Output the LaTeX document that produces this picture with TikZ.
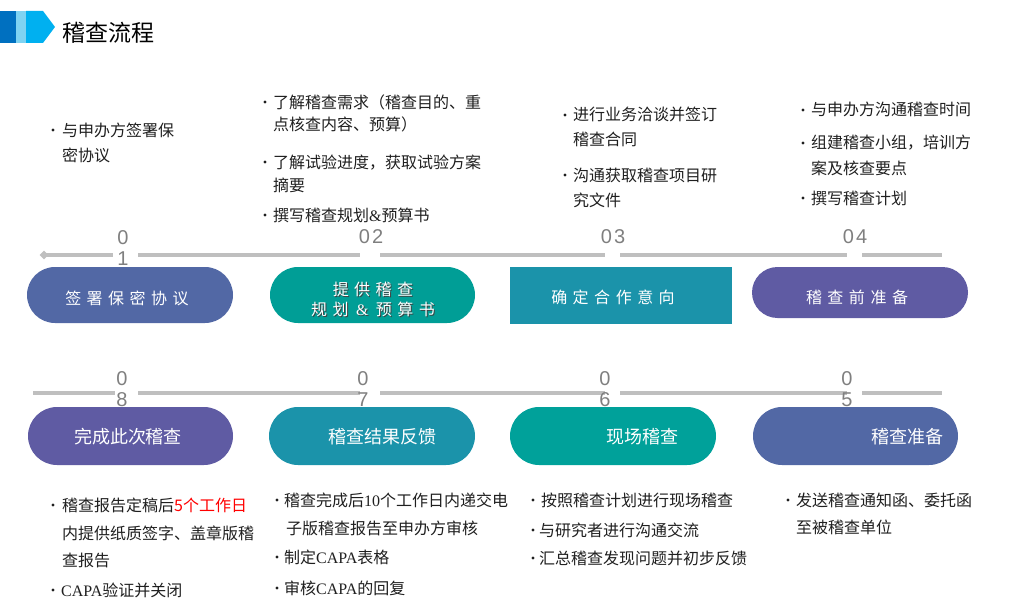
\documentclass[tikz,border=0pt]{standalone}
\usepackage{fontspec}
\setmainfont{Noto Sans CJK SC}
\newfontfamily\ser{Liberation Serif}
\newfontfamily\arl{Liberation Sans}
\usetikzlibrary{shapes.geometric}
\definecolor{hdA}{HTML}{0070C0}
\definecolor{hdB}{HTML}{7FD3F2}
\definecolor{hdC}{HTML}{00B0F0}
\definecolor{lineg}{HTML}{BFBFBF}
\definecolor{numg}{HTML}{7F7F7F}
\definecolor{bodyc}{HTML}{1F1F1F}
\definecolor{cBlue}{HTML}{5268A5}
\definecolor{cTeal}{HTML}{009E96}
\definecolor{cCyan}{HTML}{1B93AA}
\definecolor{cPurp}{HTML}{5F5BA3}
\definecolor{cGreen}{HTML}{00A19A}
\definecolor{cRed}{HTML}{FF0000}
\newcommand\sk{\kern5.5pt}
\newcommand\bodyln[4]{\node[body,anchor=base west] (#1) at (#2,#3+6) {#4};}
\newcommand\bulletat[3]{\node[bdot] (#1) at (#2,#3) {};}
\begin{document}
\begin{tikzpicture}[x=1pt,y=-1pt,
  tline/.style={draw=lineg,line width=3.5pt},
  numtxt/.style={font=\arl\fontsize{20}{21}\selectfont,text=numg,align=center,inner sep=0},
  pill/.style={inner sep=0,minimum width=#1},
  plab/.style={text=white,font=\fontsize{16}{20}\selectfont,inner sep=0},
  plabB/.style={text=white,font=\fontsize{18}{22}\selectfont,inner sep=0},
  body/.style={text=bodyc,font=\fontsize{16}{20}\selectfont,inner sep=0},
  bdot/.style={circle,fill=bodyc,minimum size=3.2pt,inner sep=0}]
\useasboundingbox (0,0) rectangle (1013,610);
% header
\fill[hdA] (0,11) rectangle (16,43);
\fill[hdB] (16,11) rectangle (26,43);
\fill[hdC] (26,11) -- (43,11) -- (55,27) -- (43,43) -- (26,43) -- cycle;
\node[anchor=west,inner sep=0,font=\fontsize{23}{26}\selectfont,text=black] (title) at (62,33) {稽查流程};
% top timeline
\node[diamond,fill=lineg,minimum size=9pt,inner sep=0] (dia) at (44,255) {};
\draw[tline] (dia.center) -- (113,255);
\draw[tline] (138,255) -- (360,255);
\draw[tline] (380,255) -- (605,255);
\draw[tline] (620,255) -- (847,255);
\draw[tline] (862,255) -- (942,255);
% bottom timeline
\draw[tline] (33,393) -- (115,393);
\draw[tline] (138,393) -- (360,393);
\draw[tline] (380,393) -- (605,393);
\draw[tline] (620,393) -- (847,393);
\draw[tline] (862,393) -- (942,393);
% numbers
\node[numtxt] (n1) at (123,248) {0\\1};
\node[numtxt] (n2) at (371,237) {0\kern2pt 2};
\node[numtxt] (n3) at (613,237) {0\kern2pt 3};
\node[numtxt] (n4) at (855,237) {0\kern2pt 4};
\node[numtxt] (n8) at (122,389) {0\\8};
\node[numtxt] (n7) at (363,389) {0\\7};
\node[numtxt] (n6) at (605,389) {0\\6};
\node[numtxt] (n5) at (847,389) {0\\5};
% top pills
\node[pill=206pt,minimum height=56pt,rounded corners=28pt,fill=cBlue] (p1) at (130,295) {};
\node[pill=205pt,minimum height=56pt,rounded corners=28pt,fill=cTeal] (p2) at (372.5,295) {};
\node[pill=222pt,minimum height=57pt,fill=cCyan] (p3) at (621,295.5) {};
\node[pill=216pt,minimum height=51pt,rounded corners=25.5pt,fill=cPurp] (p4) at (860,292.5) {};
\node[plab] (l1) at (127,298) {签\sk 署\sk 保\sk 密\sk 协\sk 议};
\node[plab,text=black!75,align=center,font=\fontsize{16}{20}\selectfont] (l2s) at (374,300) {提\sk 供\sk 稽\sk 查\\规\sk 划\sk\kern2pt{\ser\&}\kern2pt\sk 预\sk 算\sk 书};
\node[plab,align=center] (l2) at (373,299) {提\sk 供\sk 稽\sk 查\\规\sk 划\sk\kern2pt{\ser\&}\kern2pt\sk 预\sk 算\sk 书};
\node[plab] (l3) at (613,297) {确\sk 定\sk 合\sk 作\sk 意\sk 向};
\node[plab] (l4) at (857,297) {稽\sk 查\sk 前\sk 准\sk 备};
% bottom pills
\node[pill=205pt,minimum height=58pt,rounded corners=29pt,fill=cPurp] (p8) at (130.5,436) {};
\node[pill=206pt,minimum height=58pt,rounded corners=29pt,fill=cCyan] (p7) at (372,436) {};
\node[pill=206pt,minimum height=58pt,rounded corners=29pt,fill=cGreen] (p6) at (613,436) {};
\node[pill=205pt,minimum height=58pt,rounded corners=29pt,fill=cBlue] (p5) at (855.5,436) {};
\node[plabB] (l8) at (128,437) {完成此次稽查};
\node[plabB] (l7) at (382,437) {稽查结果反馈};
\node[plabB] (l6) at (642,437) {现场稽查};
\node[plabB] (l5) at (907,437) {稽查准备};
% block 1
\bulletat{b1a}{53}{130}
\bodyln{t1a}{62}{130}{与申办方签署保}
\bodyln{t1b}{62}{155}{密协议}
% block 2
\bulletat{b2a}{265}{102}
\bodyln{t2a}{273}{102}{了解稽查需求（稽查目的、重}
\bodyln{t2b}{273}{125}{点核查内容、预算）}
\bulletat{b2b}{265}{162}
\bodyln{t2c}{273}{162}{了解试验进度，获取试验方案}
\bodyln{t2d}{273}{185}{摘要}
\bulletat{b2c}{265}{215}
\bodyln{t2e}{273}{215}{撰写稽查规划{\ser\&}预算书}
% block 3
\bulletat{b3a}{565}{115}
\bodyln{t3a}{573}{115}{进行业务洽谈并签订}
\bodyln{t3b}{573}{140}{稽查合同}
\bulletat{b3b}{565}{175}
\bodyln{t3c}{573}{175}{沟通获取稽查项目研}
\bodyln{t3d}{573}{200}{究文件}
% block 4
\bulletat{b4a}{803}{110}
\bodyln{t4a}{811}{110}{与申办方沟通稽查时间}
\bulletat{b4b}{803}{143}
\bodyln{t4b}{811}{143}{组建稽查小组，培训方}
\bodyln{t4c}{811}{168}{案及核查要点}
\bulletat{b4c}{803}{198}
\bodyln{t4d}{811}{198}{撰写稽查计划}
% block 8
\bulletat{b8a}{53}{505}
\bodyln{t8a}{62}{505}{稽查报告定稿后\textcolor{cRed}{5个工作日}}
\bodyln{t8b}{62}{533}{内提供纸质签字、盖章版稽}
\bodyln{t8c}{62}{560}{查报告}
\bulletat{b8b}{53}{590}
\bodyln{t8d}{61}{590}{{\ser CAPA}验证并关闭}
% block 7
\bulletat{b7a}{277}{500}
\bodyln{t7a}{284}{500}{稽查完成后{\ser 10}个工作日内递交电}
\bodyln{t7b}{286}{528}{子版稽查报告至申办方审核}
\bulletat{b7b}{277}{557}
\bodyln{t7c}{284}{557}{制定{\ser CAPA}表格}
\bulletat{b7c}{277}{588}
\bodyln{t7d}{284}{588}{审核{\ser CAPA}的回复}
% block 6
\bulletat{b6a}{533}{500}
\bodyln{t6a}{541}{500}{按照稽查计划进行现场稽查}
\bulletat{b6b}{533}{530}
\bodyln{t6b}{539}{530}{与研究者进行沟通交流}
\bulletat{b6c}{533}{558}
\bodyln{t6c}{539}{558}{汇总稽查发现问题并初步反馈}
% block 5
\bulletat{b5a}{788}{500}
\bodyln{t5a}{796}{500}{发送稽查通知函、委托函}
\bodyln{t5b}{796}{527}{至被稽查单位}
\end{tikzpicture}
\end{document}
